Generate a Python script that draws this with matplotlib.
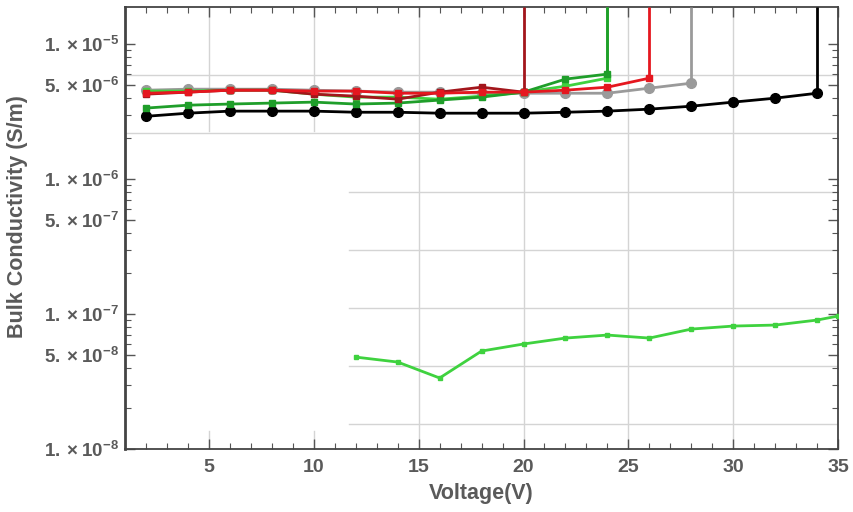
import matplotlib
matplotlib.use("Agg")
import matplotlib.pyplot as plt
from matplotlib.ticker import FixedLocator, LogLocator, NullFormatter, MultipleLocator

plt.rcParams["font.family"] = ["Liberation Sans", "DejaVu Sans"]
plt.rcParams["mathtext.fontset"] = "custom"
plt.rcParams["mathtext.rm"] = "Liberation Sans"
plt.rcParams["mathtext.bf"] = "Liberation Sans:bold"

# data (S/m); each upper run ends in a breakdown going off the top
v_black = [2, 4, 6, 8, 10, 12, 14, 16, 18, 20, 22, 24, 26, 28, 30, 32, 34]
s_black = [2.92e-6, 3.08e-6, 3.19e-6, 3.19e-6, 3.19e-6, 3.13e-6, 3.13e-6, 3.08e-6, 3.08e-6,
           3.08e-6, 3.13e-6, 3.19e-6, 3.30e-6, 3.47e-6, 3.72e-6, 3.98e-6, 4.33e-6]

v_gray = [2, 4, 6, 8, 10, 12, 14, 16, 18, 20, 22, 24, 26, 28]
s_gray = [4.56e-6, 4.64e-6, 4.64e-6, 4.64e-6, 4.56e-6, 4.49e-6, 4.41e-6, 4.41e-6, 4.33e-6,
          4.33e-6, 4.33e-6, 4.33e-6, 4.72e-6, 5.14e-6]

v_red = [2, 4, 6, 8, 10, 12, 14, 16, 18, 20, 22, 24, 26]
s_red = [4.33e-6, 4.41e-6, 4.56e-6, 4.56e-6, 4.49e-6, 4.49e-6, 4.33e-6, 4.33e-6, 4.41e-6,
         4.41e-6, 4.56e-6, 4.80e-6, 5.60e-6]

v_darkred = [2, 4, 6, 8, 10, 12, 14, 16, 18, 20]
s_darkred = [4.26e-6, 4.41e-6, 4.56e-6, 4.56e-6, 4.26e-6, 4.12e-6, 3.91e-6, 4.41e-6, 4.80e-6, 4.41e-6]

v_dkgreen = [2, 4, 6, 8, 10, 12, 14, 16, 18, 20, 22, 24]
s_dkgreen = [3.36e-6, 3.53e-6, 3.60e-6, 3.66e-6, 3.72e-6, 3.60e-6, 3.66e-6, 3.85e-6, 4.05e-6,
             4.41e-6, 5.51e-6, 6.00e-6]

v_ltgreen = [2, 4, 6, 8, 10, 12, 14, 16, 18, 20, 22, 24]
s_ltgreen = [4.49e-6, 4.49e-6, 4.56e-6, 4.56e-6, 4.26e-6, 4.05e-6, 4.05e-6, 3.91e-6, 4.12e-6,
             4.41e-6, 4.88e-6, 5.60e-6]

v_low = [12, 14, 16, 18, 20, 22, 24, 26, 28, 30, 32, 34, 35]
s_low = [4.80e-8, 4.41e-8, 3.36e-8, 5.32e-8, 6.00e-8, 6.64e-8, 6.99e-8, 6.64e-8, 7.74e-8,
         8.15e-8, 8.29e-8, 9.03e-8, 9.67e-8]

y_ticks = [1e-5, 5e-6, 1e-6, 5e-7, 1e-7, 5e-8, 1e-8]
y_ticklabels = [r"$\mathbf{1.\times10^{-5}}$", r"$\mathbf{5.\times10^{-6}}$",
                r"$\mathbf{1.\times10^{-6}}$", r"$\mathbf{5.\times10^{-7}}$",
                r"$\mathbf{1.\times10^{-7}}$", r"$\mathbf{5.\times10^{-8}}$",
                r"$\mathbf{1.\times10^{-8}}$"]
x_ticks = [5, 10, 15, 20, 25, 30, 35]

# odd grid of the original frame
hgrid_full = [5.89e-6, 2.19e-6]
hgrid_part = [8.0e-7, 2.98e-7, 1.11e-7, 4.12e-8, 1.53e-8]

txt = "#5a5a5a"
y_top = 1.88e-5

fig = plt.figure(figsize=(8.54, 5.12), dpi=100)
ax = fig.add_axes([0.1464, 0.123, 0.835, 0.863])
ax.set_yscale("log")
ax.set_xlim(1.0, 35)
ax.set_ylim(1e-8, y_top)

# grid lines
gc = "#d4d4d4"
for g in hgrid_full:
    ax.axhline(g, color=gc, lw=1, zorder=0)
for g in hgrid_part:
    ax.axhline(g, xmin=(11.7 - 1) / 34, color=gc, lw=1, zorder=0)
for xv in [15, 20, 25, 30]:
    ax.axvline(xv, color=gc, lw=1, zorder=0)
for xv in [5, 10]:
    ax.axvline(xv, ymin=0.72, color=gc, lw=1, zorder=0)
    ax.axvline(xv, ymax=0.04, color=gc, lw=1, zorder=0)

series = [
    (v_black, s_black, "#000000", "o", 7),
    (v_gray, s_gray, "#9a9a9a", "o", 7),
    (v_ltgreen, s_ltgreen, "#3fd23f", "s", 4),
    (v_dkgreen, s_dkgreen, "#1f9e2a", "s", 5),
    (v_darkred, s_darkred, "#a3161c", "s", 5),
    (v_red, s_red, "#e5171f", "s", 5),
]
for xs, ys, col, mk, ms in series:
    ax.plot(xs, ys, color=col, marker=mk, ms=ms, lw=2, zorder=3)
    # breakdown: vertical line from the last point up out of the frame
    ax.vlines(xs[-1], ys[-1], y_top, color=col, lw=2, zorder=3)

ax.plot(v_low, s_low, color="#3fd23f", marker="s", ms=2.5, lw=2, zorder=3)

# ticks and frame
ax.yaxis.set_major_locator(FixedLocator(y_ticks))
ax.set_yticklabels(y_ticklabels)
ax.yaxis.set_minor_locator(LogLocator(base=10, subs=[2, 3, 4, 6, 7, 8, 9]))
ax.yaxis.set_minor_formatter(NullFormatter())
ax.set_xticks(x_ticks)
ax.xaxis.set_minor_locator(MultipleLocator(1))
ax.tick_params(which="both", direction="in", top=True, right=True, colors="#555555",
               labelcolor=txt)
ax.tick_params(axis="y", which="major", length=7, width=1, pad=4, labelsize=13.5)
ax.tick_params(axis="x", which="major", length=7, width=1, pad=7, labelsize=14)
ax.tick_params(which="minor", length=4, width=0.8)
for lab in ax.get_xticklabels():
    lab.set_fontweight("bold")
for sp in ax.spines.values():
    sp.set_color("#444444")
    sp.set_linewidth(1.3)
ax.spines["left"].set_linewidth(2)

ax.set_xlabel("Voltage(V)", fontsize=15.5, fontweight="bold", color=txt, labelpad=5)
ax.set_ylabel("Bulk Conductivity (S/m)", fontsize=15.5, fontweight="bold", color=txt)
ax.yaxis.set_label_coords(-0.136, 0.525)

fig.savefig("out.png", dpi=100)
